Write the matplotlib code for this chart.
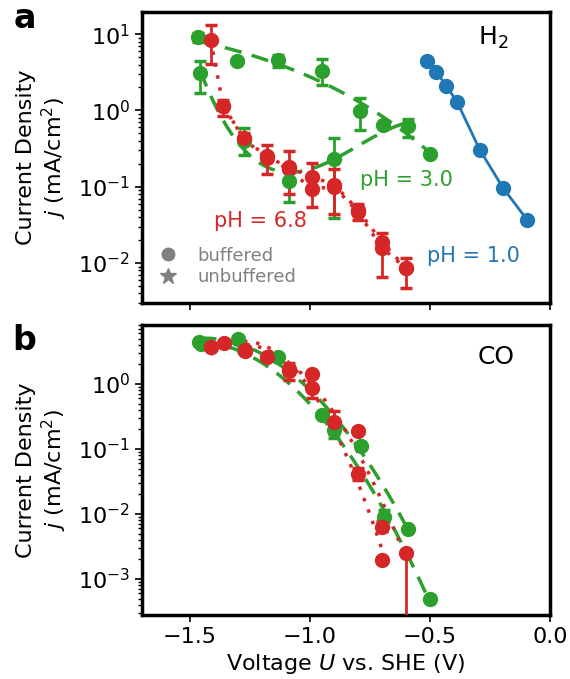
import numpy as np
import matplotlib
matplotlib.use("Agg")
import matplotlib.pyplot as plt
from matplotlib.lines import Line2D

BLUE, GREEN, RED = "#1f77b4", "#2ca02c", "#d62728"

# ---------------- Panel a : H2 ----------------
# pH 1.0
a_ph1_U = [-0.513, -0.474, -0.432, -0.388, -0.293, -0.196, -0.095]
a_ph1_j = [4.5, 3.2, 2.1, 1.31, 0.307, 0.097, 0.0367]

# pH 3.0 buffered (upper branch)
a_ph3b_U = [-1.467, -1.305, -1.135, -0.951, -0.790, -0.694, -0.592, -0.500]
a_ph3b_j = [9.2, 4.4, 4.6, 3.3, 0.99, 0.64, 0.62, 0.27]
a_ph3b_lo = [8.0, 4.2, 3.75, 2.16, 0.56, 0.62, 0.45, 0.26]
a_ph3b_hi = [10.5, 4.6, 5.3, 4.7, 1.45, 0.66, 0.77, 0.28]

# pH 3.0 second branch (lower)
a_ph3u_U = [-1.458, -1.275, -1.089, -0.899]
a_ph3u_j = [3.1, 0.40, 0.119, 0.23]
a_ph3u_lo = [1.7, 0.26, 0.064, 0.039]
a_ph3u_hi = [4.5, 0.59, 0.20, 0.43]
a_ph3u_fit_U = [-0.694, -0.592]
a_ph3u_fit_j = [0.64, 0.62]

# pH 6.8 buffered
a_ph7b_U = [-1.414, -1.361, -1.275, -1.181, -1.089, -0.993, -0.899, -0.801, -0.701, -0.599]
a_ph7b_j = [8.5, 1.13, 0.43, 0.25, 0.18, 0.135, 0.107, 0.050, 0.019, 0.0085]
a_ph7b_lo = [4.1, 0.835, 0.36, 0.145, 0.08, 0.055, 0.044, 0.037, 0.0065, 0.0047]
a_ph7b_hi = [13.1, 1.38, 0.50, 0.356, 0.29, 0.205, 0.17, 0.059, 0.025, 0.0117]

# pH 6.8 second set
a_ph7u_U = [-1.361, -1.275, -1.181, -1.089, -0.993, -0.899, -0.801, -0.701, -0.599]
a_ph7u_j = [1.15, 0.42, 0.24, 0.17, 0.094, 0.10, 0.047, 0.016, 0.0085]

# ---------------- Panel b : CO ----------------
b_ph3b_U = [-1.462, -1.302, -1.135, -0.950, -0.787, -0.592]
b_ph3b_j = [4.5, 4.9, 2.6, 0.33, 0.112, 0.0058]
b_ph3u_U = [-1.455, -1.277, -0.899, -0.693, -0.500]
b_ph3u_j = [4.2, 3.3, 0.196, 0.0091, 0.00049]
b_ph3u_lo = [4.0, 3.1, 0.15, 0.0075, 0.00049]
b_ph3u_hi = [4.4, 3.5, 0.25, 0.0115, 0.00049]

b_ph7b_U = [-1.414, -1.358, -1.272, -1.181, -1.089, -0.992, -0.798, -0.701, -0.599]
b_ph7b_j = [3.75, 4.3, 3.3, 2.6, 1.68, 1.43, 0.189, 0.0064, 0.0025]
b_ph7b_lo = [3.6, 4.1, 3.1, 2.5, 1.15, 1.35, 0.18, 0.0055, -0.001]
b_ph7b_hi = [3.9, 4.5, 3.5, 2.7, 2.1, 1.5, 0.2, 0.0078, 0.0027]
b_ph7u_U = [-1.414, -1.272, -1.089, -0.992, -0.899, -0.798, -0.701]
b_ph7u_j = [3.7, 3.2, 1.6, 0.86, 0.263, 0.042, 0.00196]
b_ph7u_lo = [3.6, 3.1, 1.5, 0.62, 0.17, 0.034, 0.0019]
b_ph7u_hi = [3.8, 3.3, 1.7, 0.95, 0.38, 0.052, 0.0020]

xticks = [-1.5, -1.0, -0.5, 0.0]

plt.rcParams['font.family'] = ['DejaVu Sans']
fig = plt.figure(figsize=(5.7, 6.79), dpi=100)
W, H = 570, 679
ax1 = fig.add_axes([142 / W, 1 - 303 / H, 408 / W, 291 / H])
ax2 = fig.add_axes([142 / W, 1 - 615 / H, 408 / W, 290 / H])

MS = 10
ekw = dict(elinewidth=2, capsize=4, capthick=2.5, ls='none', marker='o', ms=MS)


def fitline(ax, U, j, color, ls, deg, lw=2.5):
    U = np.asarray(U)
    p = np.polyfit(U, np.log10(j), deg)
    xx = np.linspace(U.min(), U.max(), 200)
    ax.plot(xx, 10 ** np.polyval(p, xx), color=color, ls=ls, lw=lw, zorder=1)


def eb(ax, U, j, lo, hi, color):
    j = np.asarray(j); lo = np.asarray(lo); hi = np.asarray(hi)
    ax.errorbar(U, j, yerr=[j - lo, hi - j], color=color, zorder=3, **ekw)


# panel a
ax1.plot(a_ph1_U, a_ph1_j, color=BLUE, lw=2, marker='o', ms=MS, zorder=3)
fitline(ax1, a_ph3b_U, a_ph3b_j, GREEN, (0, (5, 3)), 3)
fitline(ax1, a_ph3u_U + a_ph3u_fit_U, a_ph3u_j + a_ph3u_fit_j, GREEN, (0, (5, 3)), 3)
eb(ax1, a_ph3b_U, a_ph3b_j, a_ph3b_lo, a_ph3b_hi, GREEN)
eb(ax1, a_ph3u_U, a_ph3u_j, a_ph3u_lo, a_ph3u_hi, GREEN)
ax1.plot(a_ph7b_U, a_ph7b_j, color=RED, ls=(0, (1, 2.5)), lw=2.5, zorder=1)
ax1.plot(a_ph7u_U, a_ph7u_j, color=RED, ls=(0, (1, 2.5)), lw=2.5, zorder=1)
eb(ax1, a_ph7b_U, a_ph7b_j, a_ph7b_lo, a_ph7b_hi, RED)
ax1.plot(a_ph7u_U, a_ph7u_j, 'o', color=RED, ms=MS, zorder=3)

# panel b
fitline(ax2, b_ph3b_U, b_ph3b_j, GREEN, (0, (5, 3)), 2)
fitline(ax2, b_ph3u_U, b_ph3u_j, GREEN, (0, (5, 3)), 2)
ax2.plot(b_ph3b_U, b_ph3b_j, 'o', color=GREEN, ms=MS, zorder=3)
eb(ax2, b_ph3u_U, b_ph3u_j, b_ph3u_lo, b_ph3u_hi, GREEN)
fitline(ax2, b_ph7b_U, b_ph7b_j, RED, (0, (1, 2.5)), 2)
fitline(ax2, b_ph7u_U, b_ph7u_j, RED, (0, (1, 2.5)), 2)
eb(ax2, b_ph7b_U, b_ph7b_j, b_ph7b_lo, b_ph7b_hi, RED)
eb(ax2, b_ph7u_U, b_ph7u_j, b_ph7u_lo, b_ph7u_hi, RED)

for ax in (ax1, ax2):
    ax.set_yscale('log', nonpositive='clip')
    ax.set_xlim(-1.7, 0.0)
    ax.set_xticks(xticks)
    for s in ax.spines.values():
        s.set_linewidth(2.5)
    ax.tick_params(axis='both', which='major', labelsize=16, length=5, width=1.2)
    ax.tick_params(axis='y', which='minor', length=3, width=1)
    ax.set_ylabel('Current Density\n$j$ (mA/cm$^2$)', fontsize=16, linespacing=1.2)
    ax.yaxis.set_label_coords(-0.178, 0.5)

ax1.set_ylim(0.003, 19.5)
ax2.set_ylim(2.8e-4, 8.1)
ax1.set_xticklabels([])
ax2.set_xlabel('Voltage $U$ vs. SHE (V)', fontsize=16)

ax1.text(0.86, 0.91, 'H$_2$', transform=ax1.transAxes, fontsize=18, ha='center', va='center')
ax2.text(0.869, 0.89, 'CO', transform=ax2.transAxes, fontsize=18, ha='center', va='center')
ax1.text(-0.599, 0.121, 'pH = 3.0', color=GREEN, fontsize=15, ha='center', va='center')
ax1.text(-1.205, 0.036, 'pH = 6.8', color=RED, fontsize=15, ha='center', va='center')
ax1.text(-0.319, 0.0123, 'pH = 1.0', color=BLUE, fontsize=15, ha='center', va='center')

handles = [Line2D([], [], ls='none', marker='o', color='#808080', ms=9),
           Line2D([], [], ls='none', marker='*', color='#808080', ms=12)]
ax1.legend(handles, ['buffered', 'unbuffered'], loc='lower left', frameon=False,
           fontsize=13, labelcolor='#808080', handlelength=0.8, handletextpad=1.2,
           borderaxespad=0.2, labelspacing=0.2, bbox_to_anchor=(0.02, 0.02))

fig.text(14 / W, 1 - 18 / H, 'a', fontsize=24, fontweight='bold', va='center', ha='left')
fig.text(12 / W, 1 - 340 / H, 'b', fontsize=24, fontweight='bold', va='center', ha='left')

fig.savefig('out.png', dpi=100)
